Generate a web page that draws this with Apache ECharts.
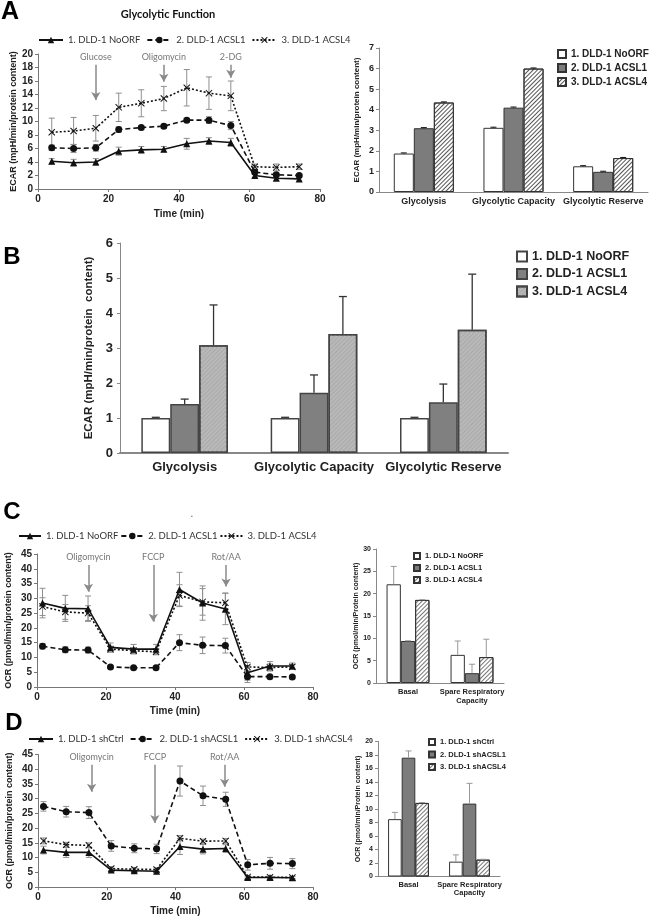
<!DOCTYPE html>
<html><head><meta charset="utf-8">
<script src="https://cdn.jsdelivr.net/npm/echarts/dist/echarts.min.js"></script>
<style>
html,body{margin:0;padding:0;background:#fff;}
.p{position:absolute;left:0;top:0;width:650px;height:919px;}
</style></head><body>
<div id="c0" class="p"></div><div id="c1" class="p"></div><div id="c2" class="p"></div>
<div id="c3" class="p"></div><div id="c4" class="p"></div><div id="c5" class="p"></div><div id="c6" class="p"></div>
<script>
// ---------------- DATA ----------------
// Panel A (ECAR time course)
const timeA = [3.9, 10.1, 16.4, 22.9, 29.3, 35.7, 42.2, 48.5, 54.7, 61.5, 67.6, 74.1];
const ecarNoORF = [4.1, 3.9, 4.0, 5.6, 5.8, 5.9, 6.7, 7.1, 6.9, 2.0, 1.6, 1.5];
const ecarNoORFErr = [0.4, 0.5, 0.5, 0.6, 0.5, 0.4, 0.8, 0.5, 0.6, 0.3, 0.3, 0.3];
const ecarACSL1 = [6.1, 6.0, 6.1, 8.8, 9.1, 9.3, 10.2, 10.2, 9.4, 2.5, 2.1, 2.0];
const ecarACSL1Err = [0.4, 0.6, 0.5, 0.4, 0.3, 0.3, 0.3, 0.5, 0.6, 0.3, 0.3, 0.2];
const ecarACSL4 = [8.4, 8.6, 9.0, 12.1, 12.7, 13.4, 15.0, 14.2, 13.8, 3.3, 3.2, 3.3];
const ecarACSL4Err = [2.1, 2.0, 1.9, 2.1, 2.0, 1.8, 2.7, 2.4, 2.2, 0.4, 0.5, 0.4];
const injA = ['Glucose', 'Oligomycin', '2-DG'];
const injTimeA = [16.4, 35.7, 54.7];

// Panel A bars
const catsA = ['Glycolysis', 'Glycolytic Capacity', 'Glycolytic Reserve'];
const aBarNoORF = [1.87, 3.12, 1.25];
const aBarACSL1 = [3.1, 4.1, 0.98];
const aBarACSL4 = [4.35, 6.0, 1.65];
const aBarNoORFErr = [0.03, 0.03, 0.03];
const aBarACSL1Err = [0.03, 0.03, 0.03];
const aBarACSL4Err = [0.03, 0.03, 0.03];

// Panel B (normalised ECAR)
const catsB = ['Glycolysis', 'Glycolytic Capacity', 'Glycolytic Reserve'];
const bNoORF = [1.0, 1.0, 1.0];
const bNoORFErr = [0.02, 0.02, 0.02];
const bACSL1 = [1.4, 1.72, 1.45];
const bACSL1Err = [0.14, 0.51, 0.52];
const bACSL4 = [3.08, 3.4, 3.52];
const bACSL4Err = [1.15, 1.07, 1.59];

// Panel C (OCR, overexpression)
const timeOCR = [1.6, 8.2, 14.8, 21.3, 28.0, 34.5, 41.3, 48.0, 54.6, 61.0, 67.5, 74.0];
const cNoORF = [28.4, 26.6, 26.5, 13.4, 12.8, 12.8, 33.0, 28.4, 26.4, 4.8, 7.1, 7.1];
const cNoORFErr = [5.0, 4.4, 4.3, 1.5, 1.6, 1.6, 5.8, 5.8, 5.3, 2.5, 1.5, 1.0];
const cACSL1 = [13.8, 12.6, 12.5, 6.8, 6.5, 6.5, 15.0, 14.1, 14.0, 3.5, 3.5, 3.4];
const cACSL1Err = [0.9, 1.0, 1.0, 0.5, 0.5, 0.5, 2.7, 2.8, 2.5, 2.0, 0.5, 0.4];
const cACSL4 = [27.2, 25.4, 25.0, 12.8, 12.3, 11.9, 31.0, 28.8, 28.5, 6.8, 6.6, 6.8];
const cACSL4Err = [3.0, 2.5, 2.5, 1.0, 1.0, 1.0, 3.6, 4.5, 3.3, 1.5, 1.2, 0.8];
const injOCR = ['Oligomycin', 'FCCP', 'Rot/AA'];
const injTimeC = [14.9, 33.7, 54.8];
const injTimeD = [15.6, 34.0, 54.3];

// Panel C bars
const catsOCR = ['Basal', 'Spare Respiratory\nCapacity'];
const cBarNoORF = [22.1, 6.3];
const cBarNoORFErr = [4.0, 3.1];
const cBarACSL1 = [9.4, 2.2];
const cBarACSL1Err = [0.05, 2.0];
const cBarACSL4 = [18.6, 5.8];
const cBarACSL4Err = [0.05, 4.0];

// Panel D (OCR, knockdown)
const dShCtrl = [12.6, 11.8, 11.8, 5.8, 5.6, 5.4, 13.8, 12.9, 13.1, 3.3, 3.3, 3.2];
const dShCtrlErr = [1.3, 1.7, 1.7, 0.6, 0.6, 0.6, 2.7, 1.6, 1.3, 0.4, 0.4, 0.4];
const dShACSL1 = [27.4, 25.6, 25.3, 14.0, 13.2, 13.0, 36.0, 31.0, 29.8, 7.6, 8.1, 8.0];
const dShACSL1Err = [1.6, 1.8, 2.0, 1.8, 1.5, 1.6, 5.1, 3.3, 2.4, 1.8, 2.0, 1.7];
const dShACSL4 = [15.7, 14.4, 14.2, 6.3, 6.1, 6.0, 16.6, 15.6, 15.7, 3.5, 3.4, 3.3];
const dShACSL4Err = [1.0, 0.8, 0.8, 0.7, 0.6, 0.6, 0.9, 0.7, 0.8, 0.4, 0.4, 0.4];

// Panel D bars
const dBarShCtrl = [8.5, 2.2];
const dBarShCtrlErr = [1.0, 1.0];
const dBarShACSL1 = [17.6, 10.8];
const dBarShACSL1Err = [1.0, 3.0];
const dBarShACSL4 = [10.9, 2.5];
const dBarShACSL4Err = [0.05, 0.05];

// ---------------- STYLE HELPERS ----------------
const SANS = '"Liberation Sans", Arial, sans-serif';
const CAL = 'Lato, "Open Sans", sans-serif';
const XPATH = 'path://M1,0 L5,4 L9,0 L10,1 L6,5 L10,9 L9,10 L5,6 L1,10 L0,9 L4,5 L0,1 Z';
const AX = '#777';

function lineOption(o) {
  const series = [];
  o.lines.forEach(L => {
    series.push({
      type: 'custom', silent: true, z: 1, animation: false,
      data: o.times.map((t, i) => [t, L.vals[i] - L.errs[i], L.vals[i] + L.errs[i]]),
      encode: { x: 0, y: [1, 2] },
      renderItem: (p, api) => {
        const lo = api.coord([api.value(0), api.value(1)]);
        const hi = api.coord([api.value(0), api.value(2)]);
        const w = 3, st = { stroke: '#8f8f8f', lineWidth: 1 };
        return { type: 'group', children: [
          { type: 'line', shape: { x1: lo[0], y1: lo[1], x2: hi[0], y2: hi[1] }, style: st },
          { type: 'line', shape: { x1: lo[0] - w, y1: lo[1], x2: lo[0] + w, y2: lo[1] }, style: st },
          { type: 'line', shape: { x1: hi[0] - w, y1: hi[1], x2: hi[0] + w, y2: hi[1] }, style: st }
        ]};
      }
    });
  });
  o.lines.forEach((L, k) => {
    const s = {
      type: 'line', name: L.name, z: 3, animation: false,
      data: o.times.map((t, i) => [t, L.vals[i]]),
      symbol: L.symbol, symbolSize: L.size, showSymbol: true,
      lineStyle: { color: '#111', width: 1.6, type: L.dash },
      itemStyle: { color: '#111' }
    };
    if (k === 0) {
      s.markLine = {
        silent: true, animation: false, symbol: ['none', 'arrow'], symbolSize: 8,
        lineStyle: { color: '#8a8a8a', width: 1.5, type: 'solid' },
        itemStyle: { color: '#8a8a8a' },
        label: { show: true, position: 'start', formatter: '{b}', color: '#777', fontSize: 9, fontFamily: CAL, distance: 3 },
        emphasis: { disabled: true },
        data: o.inj.map((n, i) => [
          { name: n, coord: [o.injTimes[i], o.arrowTop], symbol: 'none' },
          { coord: [o.injTimes[i], o.arrowEnd[i]], symbol: 'arrow', symbolSize: [7, 8] }
        ])
      };
    }
    series.push(s);
  });
  return {
    animation: false,
    graphic: o.graphic || [],
    legend: Object.assign({ data: o.lines.map(L => L.name), padding: 0, itemWidth: 24, itemHeight: 8,
      textStyle: { fontSize: 9.5, color: '#333', fontFamily: CAL } }, o.legend),
    grid: Object.assign({ containLabel: false, outerBoundsMode: 'none' }, o.grid),
    xAxis: { type: 'value', min: 0, max: 80, interval: 20,
      axisLine: { show: true, lineStyle: { color: AX } }, axisTick: { show: true, length: 3, lineStyle: { color: AX } },
      splitLine: { show: false },
      axisLabel: { fontSize: 10, fontWeight: 'bold', color: '#222', fontFamily: SANS, margin: 5 },
      name: 'Time (min)', nameLocation: 'middle', nameGap: o.xNameGap,
      nameTextStyle: { fontSize: 10, fontWeight: 'bold', color: '#222', fontFamily: SANS } },
    yAxis: { type: 'value', min: 0, max: o.yMax, interval: o.yInt,
      axisLine: { show: true, lineStyle: { color: AX } }, axisTick: { show: true, length: 3, lineStyle: { color: AX } },
      splitLine: { show: false },
      axisLabel: { fontSize: 10, fontWeight: 'bold', color: '#222', fontFamily: SANS, margin: 5 },
      name: o.yName, nameLocation: 'middle', nameGap: o.yNameGap, nameRotate: 90,
      nameTextStyle: { fontSize: 9, fontWeight: 'bold', color: '#222', fontFamily: SANS } },
    series
  };
}

function barOption(o) {
  const series = [];
  const n = o.bars.length;
  o.bars.forEach(B => {
    series.push({ type: 'bar', name: B.name, data: B.vals, barGap: '0%', barCategoryGap: '33%', z: 2,
      animation: false, itemStyle: B.itemStyle, emphasis: { disabled: true } });
  });
  o.bars.forEach((B, k) => {
    series.push({
      type: 'custom', silent: true, z: 4, animation: false,
      data: B.vals.map((v, i) => [i, v, B.errs[i]]),
      encode: { x: 0, y: 1 },
      renderItem: (p, api) => {
        const ci = api.value(0), v = api.value(1), e = api.value(2);
        const base = api.coord([ci, v]);
        const top = api.coord([ci, v + e]);
        const band = api.size([1, 0])[0];
        const bw = band * 0.67 / n;
        const x = base[0] + (k - (n - 1) / 2) * bw;
        const st = { stroke: o.errColor, lineWidth: o.errWidth };
        return { type: 'group', children: [
          { type: 'line', shape: { x1: x, y1: base[1], x2: x, y2: top[1] }, style: st },
          { type: 'line', shape: { x1: x - o.cap, y1: top[1], x2: x + o.cap, y2: top[1] }, style: st }
        ]};
      }
    });
  });
  return {
    animation: false,
    legend: Object.assign({ data: o.bars.map(B => B.name), orient: 'vertical', padding: 0, icon: 'rect',
      textStyle: { fontWeight: 'bold', color: '#222', fontFamily: SANS } }, o.legend),
    grid: Object.assign({ containLabel: false, outerBoundsMode: 'none' }, o.grid),
    xAxis: { type: 'category', data: o.cats,
      axisLine: { show: true, lineStyle: { color: '#888', width: o.xLineW || 1 } }, axisTick: { show: false },
      axisLabel: { fontSize: o.catFont, fontWeight: 'bold', color: '#222', fontFamily: SANS, margin: o.catMargin,
        lineHeight: o.catLH || undefined, interval: 0 } },
    yAxis: { type: 'value', min: 0, max: o.yMax, interval: o.yInt,
      axisLine: { show: true, lineStyle: { color: '#888' } }, axisTick: { show: true, length: 3, lineStyle: { color: '#888' } },
      splitLine: { show: false },
      axisLabel: { fontSize: o.tickFont, fontWeight: 'bold', color: '#222', fontFamily: SANS, margin: o.tickMargin || 5 },
      name: o.yName, nameLocation: 'middle', nameGap: o.yNameGap, nameRotate: 90,
      nameTextStyle: { fontSize: o.yNameFont, fontWeight: 'bold', color: '#222', fontFamily: SANS } },
    series
  };
}

const hatch = (bg, fg, gap) => ({ color: bg, borderColor: '#333', borderWidth: 1,
  decal: { symbol: 'rect', symbolSize: 1, dashArrayX: [1, 0], dashArrayY: [1, gap], rotation: -Math.PI / 4, color: fg } });
const whiteBar = { color: '#fff', borderColor: '#333', borderWidth: 1 };
const darkBar = { color: '#7c7c7c', borderColor: '#333', borderWidth: 1 };

const labels = (t, x, y, size, extra) => Object.assign({ type: 'text', x, y,
  style: { text: t, fontSize: size, fontWeight: 'bold', fontFamily: SANS, fill: '#000', textAlign: 'center', textVerticalAlign: 'middle' } }, extra || {});

// ---------------- PANEL A line ----------------
echarts.init(document.getElementById('c0'), null, { renderer: 'canvas' }).setOption(lineOption({
  graphic: [
    labels('A', 10, 12, 25),
    { type: 'text', x: 168, y: 14, style: { text: 'Glycolytic Function', fontSize: 11, fontWeight: 'bold', fontFamily: CAL, fill: '#111', textAlign: 'center', textVerticalAlign: 'middle' } },
    labels('B', 12, 257, 24),
    labels('C', 12, 512, 24),
    { type: 'text', x: 192, y: 514, style: { text: '.', fontSize: 10, fontFamily: SANS, fill: '#555', textAlign: 'center', textVerticalAlign: 'middle' } },
    labels('D', 14, 723, 24)
  ],
  grid: { left: 38, top: 54, width: 282, height: 135 },
  legend: { left: 38, top: 35, itemGap: 6 },
  times: timeA, yMax: 20, yInt: 2, yName: 'ECAR (mpH/min/protein content)', yNameGap: 12, xNameGap: 20,
  inj: injA, injTimes: injTimeA, arrowTop: 18.4, arrowEnd: [13.2, 15.9, 16.5],
  lines: [
    { name: '1. DLD-1 NoORF', vals: ecarNoORF, errs: ecarNoORFErr, symbol: 'triangle', size: 7, dash: 'solid' },
    { name: '2. DLD-1 ACSL1', vals: ecarACSL1, errs: ecarACSL1Err, symbol: 'circle', size: 7, dash: [5, 3] },
    { name: '3. DLD-1 ACSL4', vals: ecarACSL4, errs: ecarACSL4Err, symbol: XPATH, size: 7, dash: [2, 2] }
  ]
}));

// ---------------- PANEL A bars ----------------
echarts.init(document.getElementById('c1')).setOption(barOption({
  grid: { left: 379, top: 48, width: 269, height: 144 },
  legend: { left: 557, top: 49, itemWidth: 8, itemHeight: 8, itemGap: 4, textStyle: { fontSize: 10, fontWeight: 'bold', color: '#222', fontFamily: SANS } },
  cats: catsA, yMax: 7, yInt: 1, yName: 'ECAR (mpH/min/protein content)', yNameGap: 18, yNameFont: 8,
  catFont: 9, catMargin: 5, tickFont: 9, errColor: '#111', errWidth: 1, cap: 3,
  bars: [
    { name: '1. DLD-1 NoORF', vals: aBarNoORF, errs: aBarNoORFErr, itemStyle: whiteBar },
    { name: '2. DLD-1 ACSL1', vals: aBarACSL1, errs: aBarACSL1Err, itemStyle: darkBar },
    { name: '3. DLD-1 ACSL4', vals: aBarACSL4, errs: aBarACSL4Err, itemStyle: hatch('#fff', '#555', 1.5) }
  ]
}));

// ---------------- PANEL B ----------------
echarts.init(document.getElementById('c2')).setOption(barOption({
  grid: { left: 120, top: 243, width: 388, height: 210 },
  legend: { left: 516, top: 250, itemWidth: 10, itemHeight: 10, itemGap: 4.5, textStyle: { fontSize: 12.5, fontWeight: 'bold', color: '#222', fontFamily: SANS } },
  cats: catsB, yMax: 6, yInt: 1, yName: 'ECAR (mpH/min/protein  content)', yNameGap: 22, yNameFont: 11.5,
  catFont: 13, catMargin: 8, tickFont: 13, tickMargin: 7, xLineW: 2, errColor: '#333', errWidth: 1.3, cap: 4,
  bars: [
    { name: '1. DLD-1 NoORF', vals: bNoORF, errs: bNoORFErr, itemStyle: { color: '#fff', borderColor: '#444', borderWidth: 1.5 } },
    { name: '2. DLD-1 ACSL1', vals: bACSL1, errs: bACSL1Err, itemStyle: { color: '#808080', borderColor: '#444', borderWidth: 1.5 } },
    { name: '3. DLD-1 ACSL4', vals: bACSL4, errs: bACSL4Err, itemStyle: Object.assign(hatch('#b9b9b9', '#a9a9a9', 2), { borderColor: '#444', borderWidth: 1.5 }) }
  ]
}));

// ---------------- PANEL C line ----------------
echarts.init(document.getElementById('c3')).setOption(lineOption({
  grid: { left: 37, top: 554, width: 276, height: 133 },
  legend: { left: 18, top: 531, itemGap: 2, itemWidth: 22 },
  times: timeOCR, yMax: 45, yInt: 5, yName: 'OCR (pmol/min/protein content)', yNameGap: 24, xNameGap: 19,
  inj: injOCR, injTimes: injTimeC, arrowTop: 41.3, arrowEnd: [32.2, 22.1, 34.0],
  lines: [
    { name: '1. DLD-1 NoORF', vals: cNoORF, errs: cNoORFErr, symbol: 'triangle', size: 7, dash: 'solid' },
    { name: '2. DLD-1 ACSL1', vals: cACSL1, errs: cACSL1Err, symbol: 'circle', size: 7, dash: [5, 3] },
    { name: '3. DLD-1 ACSL4', vals: cACSL4, errs: cACSL4Err, symbol: XPATH, size: 7, dash: [2, 2] }
  ]
}));

// ---------------- PANEL C bars ----------------
echarts.init(document.getElementById('c4')).setOption(barOption({
  grid: { left: 376, top: 549, width: 128, height: 134 },
  legend: { left: 413, top: 552, itemWidth: 6, itemHeight: 6, itemGap: 4, textStyle: { fontSize: 7.5, fontWeight: 'bold', color: '#222', fontFamily: SANS } },
  cats: catsOCR, yMax: 30, yInt: 5, yName: 'OCR (pmol/min/Protein content)', yNameGap: 15, yNameFont: 7,
  catFont: 7.5, catMargin: 5, catLH: 8.5, tickFont: 7, errColor: '#999', errWidth: 1, cap: 3,
  bars: [
    { name: '1. DLD-1 NoORF', vals: cBarNoORF, errs: cBarNoORFErr, itemStyle: whiteBar },
    { name: '2. DLD-1 ACSL1', vals: cBarACSL1, errs: cBarACSL1Err, itemStyle: darkBar },
    { name: '3. DLD-1 ACSL4', vals: cBarACSL4, errs: cBarACSL4Err, itemStyle: hatch('#fff', '#777', 1.5) }
  ]
}));

// ---------------- PANEL D line ----------------
echarts.init(document.getElementById('c5')).setOption(lineOption({
  grid: { left: 38, top: 754.5, width: 275, height: 132.7 },
  legend: { left: 28, top: 734, itemGap: 6 },
  times: timeOCR, yMax: 45, yInt: 5, yName: 'OCR (pmol/min/protein content)', yNameGap: 24, xNameGap: 19,
  inj: injOCR, injTimes: injTimeD, arrowTop: 41.5, arrowEnd: [32.4, 21.8, 34.1],
  lines: [
    { name: '1. DLD-1 shCtrl', vals: dShCtrl, errs: dShCtrlErr, symbol: 'triangle', size: 7, dash: 'solid' },
    { name: '2. DLD-1 shACSL1', vals: dShACSL1, errs: dShACSL1Err, symbol: 'circle', size: 7, dash: [5, 3] },
    { name: '3. DLD-1 shACSL4', vals: dShACSL4, errs: dShACSL4Err, symbol: XPATH, size: 7, dash: [2, 2] }
  ]
}));

// ---------------- PANEL D bars ----------------
echarts.init(document.getElementById('c6')).setOption(barOption({
  grid: { left: 378, top: 741.5, width: 122, height: 135 },
  legend: { left: 428, top: 738, itemWidth: 6, itemHeight: 6, itemGap: 4.5, textStyle: { fontSize: 7.5, fontWeight: 'bold', color: '#222', fontFamily: SANS } },
  cats: catsOCR, yMax: 20, yInt: 2, yName: 'OCR (pmol/min/Protein content)', yNameGap: 15, yNameFont: 7,
  catFont: 7.5, catMargin: 4, catLH: 8.5, tickFont: 7, errColor: '#999', errWidth: 1, cap: 3,
  bars: [
    { name: '1. DLD-1 shCtrl', vals: dBarShCtrl, errs: dBarShCtrlErr, itemStyle: whiteBar },
    { name: '2. DLD-1 shACSL1', vals: dBarShACSL1, errs: dBarShACSL1Err, itemStyle: darkBar },
    { name: '3. DLD-1 shACSL4', vals: dBarShACSL4, errs: dBarShACSL4Err, itemStyle: hatch('#fff', '#777', 1.5) }
  ]
}));
</script>
</body></html>
